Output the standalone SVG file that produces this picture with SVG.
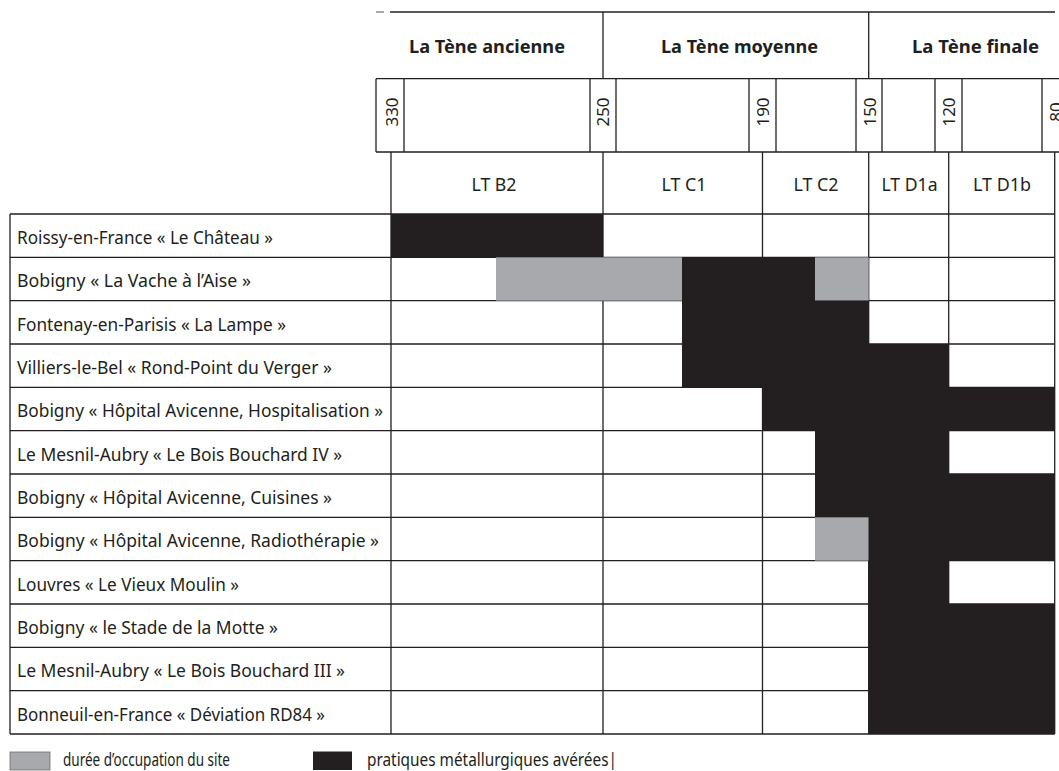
<svg xmlns="http://www.w3.org/2000/svg" width="1059" height="771" viewBox="0 0 1059 771">
<style>
.ln{stroke:#231f20;stroke-width:1.3;fill:none}
.blk{fill:#231f20}
.gry{fill:#a7a9ac}
.t{font-family:"Noto Sans","DejaVu Sans",sans-serif;font-size:17.5px;fill:#231f20}
.h{font-family:"Noto Sans","DejaVu Sans",sans-serif;font-size:18px;font-weight:bold;fill:#231f20;text-anchor:middle}
.c{text-anchor:middle}
.y{font-family:"Noto Sans","DejaVu Sans",sans-serif;font-size:17px;fill:#231f20;text-anchor:middle}
</style>
<rect width="1059" height="771" fill="#fff"/>

<g id="header">
  <line class="ln" x1="376" y1="12" x2="384" y2="12" stroke-opacity="0.6"/>
  <line class="ln" x1="390" y1="12" x2="1055" y2="12"/>
  <line class="ln" x1="603" y1="12" x2="603" y2="78.7"/>
  <line class="ln" x1="868.7" y1="12" x2="868.7" y2="78.7"/>
  <text class="h" x="487" y="53" textLength="156" lengthAdjust="spacingAndGlyphs">La Tène ancienne</text>
  <text class="h" x="739.5" y="53" textLength="157" lengthAdjust="spacingAndGlyphs">La Tène moyenne</text>
  <text class="h" x="975.5" y="53" textLength="127" lengthAdjust="spacingAndGlyphs">La Tène finale</text>
</g>

<g id="years">
  <line class="ln" x1="376" y1="78.7" x2="1059" y2="78.7"/>
  <line class="ln" x1="376" y1="152" x2="1059" y2="152"/>
  <path class="ln" d="M376 78.7V152M404 78.7V152M590 78.7V152M616 78.7V152M749 78.7V152M776 78.7V152M856 78.7V152M882 78.7V152M935 78.7V152M962 78.7V152M1042 78.7V152"/>
  <text class="y" transform="translate(397.5,112) rotate(-90)">330</text>
  <text class="y" transform="translate(609,112) rotate(-90)">250</text>
  <text class="y" transform="translate(768.5,112) rotate(-90)">190</text>
  <text class="y" transform="translate(875.5,112) rotate(-90)">150</text>
  <text class="y" transform="translate(955,112) rotate(-90)">120</text>
  <text class="y" transform="translate(1062,112) rotate(-90)">80</text>
</g>

<g id="subperiods">
  <path class="ln" d="M391 152V214M603 152V214M762.5 152V214M868.7 152V214M948.7 152V214M1054.7 152V214"/>
  <text class="t c" x="494" y="191" textLength="45" lengthAdjust="spacingAndGlyphs">LT B2</text>
  <text class="t c" x="684" y="191" textLength="45" lengthAdjust="spacingAndGlyphs">LT C1</text>
  <text class="t c" x="816" y="191" textLength="45" lengthAdjust="spacingAndGlyphs">LT C2</text>
  <text class="t c" x="909.5" y="191" textLength="56" lengthAdjust="spacingAndGlyphs">LT D1a</text>
  <text class="t c" x="1002" y="191" textLength="58" lengthAdjust="spacingAndGlyphs">LT D1b</text>
</g>

<g id="grid">
  <path class="ln" d="M10 214H1054.7M10 257.33H1054.7M10 300.67H1054.7M10 344H1054.7M10 387.33H1054.7M10 430.67H1054.7M10 474H1054.7M10 517.33H1054.7M10 560.67H1054.7M10 604H1054.7M10 647.33H1054.7M10 690.67H1054.7M10 734H1054.7"/>
  <path class="ln" d="M10 214V734M391 214V734M603 214V734M762.5 214V734M868.7 214V734M948.7 214V734M1054.7 214V734"/>
</g>

<g id="fills">
  <rect class="blk" x="391" y="214" width="212" height="43.33"/>
  <rect class="gry" x="496" y="257.33" width="186" height="43.33"/>
  <rect class="blk" x="682" y="257.33" width="133" height="43.33"/>
  <rect class="gry" x="815" y="257.33" width="53.7" height="43.33"/>
  <rect class="blk" x="682" y="300.67" width="186.7" height="43.33"/>
  <rect class="blk" x="682" y="344" width="266.7" height="43.33"/>
  <rect class="blk" x="762.5" y="387.33" width="292.2" height="43.33"/>
  <rect class="blk" x="815" y="430.67" width="133.7" height="43.33"/>
  <rect class="blk" x="815" y="474" width="239.7" height="43.33"/>
  <rect class="gry" x="815" y="517.33" width="53.7" height="43.33"/>
  <rect class="blk" x="868.7" y="517.33" width="186" height="43.33"/>
  <rect class="blk" x="868.7" y="560.67" width="80" height="43.33"/>
  <rect class="blk" x="868.7" y="604" width="186" height="130"/>
</g>

<g id="sites">
  <text class="t" x="17" y="244" textLength="256" lengthAdjust="spacingAndGlyphs">Roissy-en-France « Le Château »</text>
  <text class="t" x="17" y="287.3" textLength="234" lengthAdjust="spacingAndGlyphs">Bobigny « La Vache à l’Aise »</text>
  <text class="t" x="17" y="330.7" textLength="269" lengthAdjust="spacingAndGlyphs">Fontenay-en-Parisis « La Lampe »</text>
  <text class="t" x="17" y="374" textLength="315" lengthAdjust="spacingAndGlyphs">Villiers-le-Bel « Rond-Point du Verger »</text>
  <text class="t" x="17" y="417.3" textLength="366" lengthAdjust="spacingAndGlyphs">Bobigny « Hôpital Avicenne, Hospitalisation »</text>
  <text class="t" x="17" y="460.7" textLength="325" lengthAdjust="spacingAndGlyphs">Le Mesnil-Aubry « Le Bois Bouchard IV »</text>
  <text class="t" x="17" y="504" textLength="315" lengthAdjust="spacingAndGlyphs">Bobigny « Hôpital Avicenne, Cuisines »</text>
  <text class="t" x="17" y="547.3" textLength="362" lengthAdjust="spacingAndGlyphs">Bobigny « Hôpital Avicenne, Radiothérapie »</text>
  <text class="t" x="17" y="590.7" textLength="222" lengthAdjust="spacingAndGlyphs">Louvres « Le Vieux Moulin »</text>
  <text class="t" x="17" y="634" textLength="261" lengthAdjust="spacingAndGlyphs">Bobigny « le Stade de la Motte »</text>
  <text class="t" x="17" y="677.3" textLength="328" lengthAdjust="spacingAndGlyphs">Le Mesnil-Aubry « Le Bois Bouchard III »</text>
  <text class="t" x="17" y="720.7" textLength="308" lengthAdjust="spacingAndGlyphs">Bonneuil-en-France « Déviation RD84 »</text>
</g>

<g id="legend">
  <rect class="gry" x="10" y="752" width="40" height="18" stroke="#6d6e71" stroke-width="0.8"/>
  <text class="t" x="63" y="766" textLength="167" lengthAdjust="spacingAndGlyphs">durée d’occupation du site</text>
  <rect class="blk" x="313" y="751.5" width="39" height="18.5"/>
  <text class="t" x="367" y="766" textLength="250" lengthAdjust="spacingAndGlyphs">pratiques métallurgiques avérées|</text>
</g>
</svg>
